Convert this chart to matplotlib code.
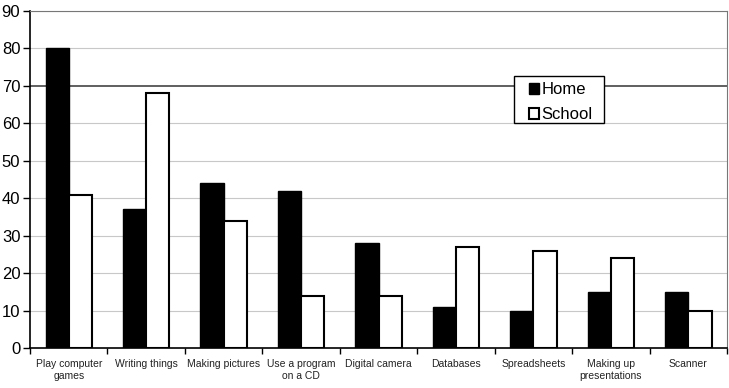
import numpy as np
import matplotlib.pyplot as plt
from matplotlib.patches import Rectangle

categories = ["Play computer\ngames", "Writing things", "Making pictures",
              "Use a program\non a CD", "Digital camera", "Databases",
              "Spreadsheets", "Making up\npresentations", "Scanner"]
home = [80, 37, 44, 42, 28, 11, 10, 15, 15]
school = [41, 68, 34, 14, 14, 27, 26, 24, 10]
yticks = [0, 10, 20, 30, 40, 50, 60, 70, 80, 90]

plt.rcParams['font.family'] = ['Liberation Sans', 'DejaVu Sans']

fig = plt.figure(figsize=(7.29, 3.88), dpi=100)
ax = fig.add_axes([0.0412, 0.103, 0.9561, 0.8686])

x = np.arange(len(categories))
w = 0.3
ax.bar(x - w/2, home, w, color='black', edgecolor='black', linewidth=1, label='Home', zorder=3)
ax.bar(x + w/2, school, w, color='white', edgecolor='black', linewidth=1.5, label='School', zorder=3)

ax.set_xlim(-0.5, len(categories) - 0.5)
ax.set_ylim(0, 90)
ax.set_yticks(yticks)
ax.tick_params(axis='y', labelsize=12, length=5, width=1, pad=2)

# gridlines
for v in yticks[1:]:
    if v == 70:
        ax.axhline(v, color='#444444', linewidth=1.2, zorder=1)
    else:
        ax.axhline(v, color='#c8c8c8', linewidth=0.8, zorder=1)

# category boundaries as ticks, labels at centers
ax.set_xticks(np.arange(len(categories) + 1) - 0.5)
ax.set_xticklabels([])
ax.tick_params(axis='x', which='major', length=4, width=1)
ax.set_xticks(x, minor=True)
ax.set_xticklabels(categories, minor=True, fontsize=7.5, color='#222222')
ax.tick_params(axis='x', which='minor', length=0, pad=8)

for s in ['top', 'right']:
    ax.spines[s].set_color('#777777')
ax.spines['left'].set_linewidth(1.2)
ax.spines['bottom'].set_linewidth(1.2)

# legend box drawn by hand so the padding matches
ax.add_patch(Rectangle((0.6944, 0.6677), 0.1291, 0.1394, transform=ax.transAxes,
                       facecolor='white', edgecolor='black', linewidth=1, zorder=5))
leg = ax.legend(loc='upper left', bbox_to_anchor=(0.716, 0.789), fontsize=12,
                frameon=False, handlelength=0.6, handleheight=0.6, handletextpad=0.15,
                borderpad=0, labelspacing=0.6, borderaxespad=0)
leg.set_zorder(6)

fig.savefig("out.png", dpi=100)
